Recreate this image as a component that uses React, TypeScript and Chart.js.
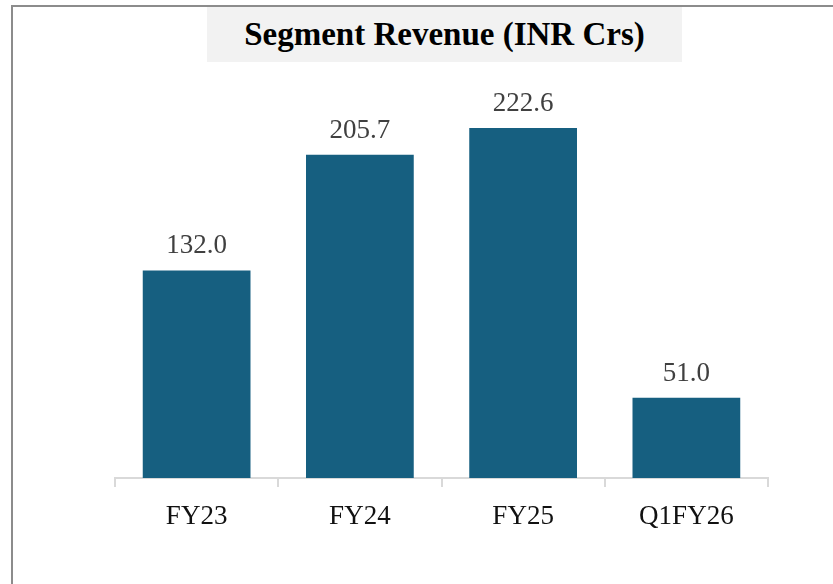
import React, { useEffect, useRef } from "react";
import { Chart, registerables } from "chart.js";

Chart.register(...registerables);

const categories = ["FY23", "FY24", "FY25", "Q1FY26"];
const revenue = [132.0, 205.7, 222.6, 51.0];
const titleText = "Segment Revenue (INR Crs)";

const valueLabels = {
  id: "valueLabels",
  afterDatasetsDraw(chart: any) {
    const ctx = chart.ctx;
    const meta = chart.getDatasetMeta(0);
    const data = chart.data.datasets[0].data as number[];
    ctx.save();
    ctx.font = "27px 'Liberation Serif'";
    ctx.fillStyle = "#404040";
    ctx.textAlign = "center";
    ctx.textBaseline = "alphabetic";
    meta.data.forEach((bar: any, i: number) => {
      ctx.fillText(data[i].toFixed(1), bar.x, bar.y - 17);
    });
    ctx.restore();
  },
};

export default function App() {
  const ref = useRef<HTMLCanvasElement | null>(null);
  useEffect(() => {
    if (!ref.current) return;
    const chart = new Chart(ref.current, {
      type: "bar",
      data: {
        labels: categories,
        datasets: [
          {
            data: revenue,
            backgroundColor: "#165F80",
            barPercentage: 0.66,
            categoryPercentage: 1,
          },
        ],
      },
      options: {
        animation: false,
        responsive: false,
        layout: { padding: { top: 85, left: 115, right: 65, bottom: 0 } },
        plugins: {
          legend: { display: false },
          title: { display: false },
          tooltip: { enabled: false },
        },
        scales: {
          y: { display: false, min: 0, max: 250 },
          x: {
            grid: {
              display: true,
              drawOnChartArea: false,
              drawTicks: true,
              tickLength: 9,
              color: "#d9d9d9",
              lineWidth: 2,
              offset: true,
            },
            border: { display: true, color: "#d9d9d9", width: 2 },
            ticks: {
              font: { family: "'Liberation Serif'", size: 27 },
              color: "#111111",
              padding: 14,
            },
            afterFit: (s: any) => {
              s.height = 106;
            },
          },
        },
      },
      plugins: [valueLabels],
    });
    return () => chart.destroy();
  }, []);

  return (
    <div style={{ position: "absolute", left: 0, top: 0, width: 833, height: 584, background: "#fff", overflow: "hidden" }}>
      <div
        style={{
          position: "absolute",
          left: 11,
          top: 5,
          right: -10,
          bottom: -10,
          borderLeft: "2px solid #8c8c8c",
          borderTop: "2px solid #8c8c8c",
        }}
      />
      <div
        style={{
          position: "absolute",
          left: 207,
          top: 7,
          width: 475,
          height: 55,
          background: "#F2F2F2",
          fontFamily: "'Liberation Serif'",
          fontWeight: "bold",
          fontSize: 33,
          lineHeight: "55px",
          textAlign: "center",
          color: "#000",
        }}
      >
        {titleText}
      </div>
      <canvas ref={ref} width={833} height={584} style={{ position: "absolute", left: 0, top: 0 }} />
    </div>
  );
}
